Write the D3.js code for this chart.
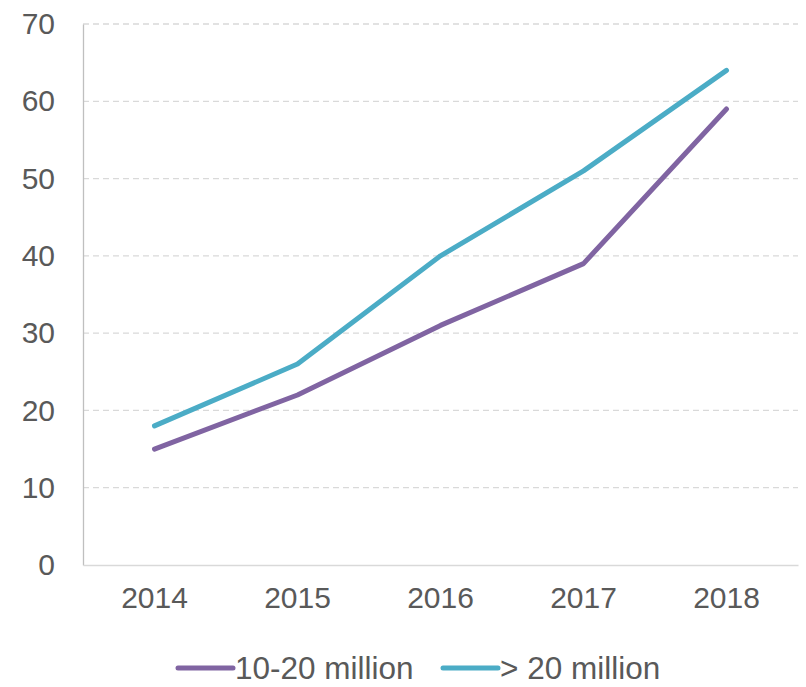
<html>
<head>
<style>
    body { margin: 0; background: #fff; }
    svg text { font-family: "Liberation Sans", Arial, sans-serif; fill: #595959; }
</style>
</head>
<body>
<svg id="chart" width="806" height="687"></svg>
<script src="https://cdnjs.cloudflare.com/ajax/libs/d3/7.8.5/d3.min.js"></script>
<script>
    var years = ["2014", "2015", "2016", "2017", "2018"];
    var mid = [15, 22, 31, 39, 59];      // 10-20 million
    var large = [18, 26, 40, 51, 64];    // > 20 million
    var yTicks = [0, 10, 20, 30, 40, 50, 60, 70];
    var seriesNames = ["10-20 million", "> 20 million"];
    var seriesColors = ["#8064a2", "#4bacc6"];

    var svg = d3.select("#chart");
    var plotL = 83, plotR = 798, plotT = 24, plotB = 565;

    var x = d3.scaleBand().domain(years).range([plotL, plotR]);
    var y = d3.scaleLinear().domain([0, 70]).range([plotB, plotT]);

    // grid
    svg.append("g")
        .selectAll("line")
        .data(yTicks.filter(d => d > 0))
        .enter()
        .append("line")
        .attr("x1", plotL).attr("x2", plotR)
        .attr("y1", d => y(d)).attr("y2", d => y(d))
        .attr("stroke", "#d9d9d9")
        .attr("stroke-width", 1.3)
        .attr("stroke-dasharray", "6,4");

    // y axis
    var yAxis = svg.append("g")
        .attr("transform", "translate(" + plotL + ",0)")
        .call(d3.axisLeft(y).tickValues(yTicks).tickSize(0).tickPadding(28));
    yAxis.select(".domain").attr("stroke", "#bfbfbf").attr("stroke-width", 1.3);
    yAxis.selectAll("text").attr("font-size", 30).attr("fill", "#595959");

    // x axis
    var xAxis = svg.append("g")
        .attr("transform", "translate(0," + plotB + ")")
        .call(d3.axisBottom(x).tickSize(0).tickPadding(22));
    xAxis.select(".domain").attr("stroke", "#d9d9d9").attr("stroke-width", 1.3);
    xAxis.selectAll("text").attr("font-size", 30).attr("fill", "#595959");

    var line = d3.line()
        .x((d, i) => x(years[i]) + x.bandwidth() / 2)
        .y(d => y(d));

    [mid, large].forEach(function (s, i) {
        svg.append("path")
            .datum(s)
            .attr("d", line)
            .attr("fill", "none")
            .attr("stroke", seriesColors[i])
            .attr("stroke-width", 5)
            .attr("stroke-linecap", "round")
            .attr("stroke-linejoin", "round");
    });

    // legend
    var legX = [178, 443];
    var legend = svg.append("g");
    seriesNames.forEach(function (n, i) {
        legend.append("line")
            .attr("x1", legX[i]).attr("x2", legX[i] + 55)
            .attr("y1", 668).attr("y2", 668)
            .attr("stroke", seriesColors[i])
            .attr("stroke-width", 5)
            .attr("stroke-linecap", "round");
        legend.append("text")
            .attr("x", legX[i] + 57)
            .attr("y", 679)
            .attr("font-size", 31.5)
            .text(n);
    });
</script>
</body>
</html>
